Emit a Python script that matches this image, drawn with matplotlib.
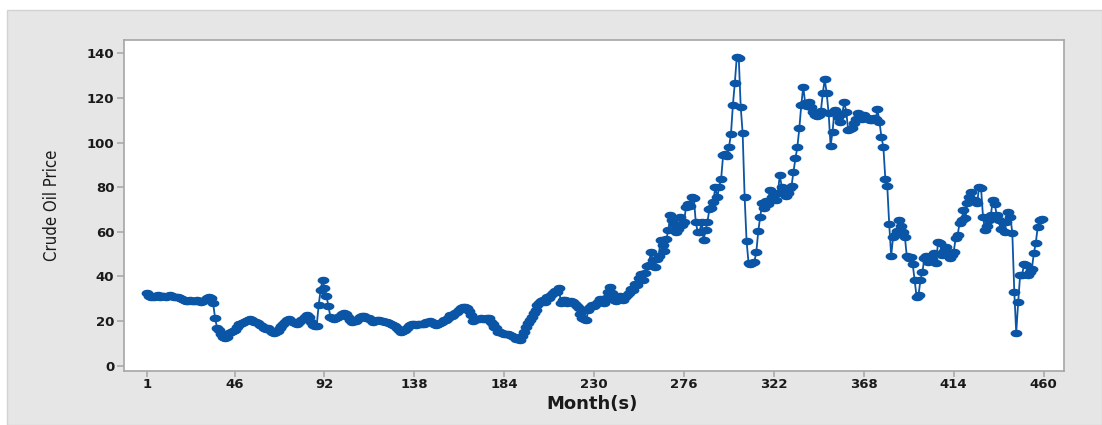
import numpy as np
import matplotlib
matplotlib.use("Agg")
import matplotlib.pyplot as plt
from matplotlib.markers import MarkerStyle
from matplotlib.transforms import Affine2D
from matplotlib.patches import Rectangle

# monthly crude oil price, in blocks of 100 months
prices_001_100 = [
    32.8, 31.2, 31.0, 31.3, 31.0, 31.2, 31.5, 31.0, 31.4, 31.2,
    31.0, 31.3, 31.5, 31.2, 30.8, 30.9, 30.6, 30.3, 30.0, 29.3,
    28.8, 28.9, 29.4, 29.2, 29.0, 29.2, 29.5, 28.8, 28.5, 28.9,
    29.3, 30.2, 31.0, 30.4, 28.0, 21.5, 17.0, 15.8, 14.2, 13.0,
    12.5, 13.0, 14.8, 15.2, 15.5, 16.0, 17.5, 18.5, 18.8, 19.2,
    19.6, 20.0, 20.4, 20.8, 20.3, 19.8, 19.5, 19.0, 18.2, 17.6,
    17.0, 16.6, 16.8, 16.2, 15.3, 14.8, 15.0, 15.6, 16.8, 17.8,
    18.6, 19.5, 20.4, 20.8, 20.2, 19.6, 19.0, 18.8, 19.4, 20.3,
    21.0, 22.0, 22.7, 21.8, 19.8, 18.4, 17.6, 17.8, 27.0, 33.8,
    38.4, 35.0, 31.2, 26.8, 22.0, 21.4, 20.8, 21.2, 21.7, 22.4,
]
prices_101_200 = [
    23.2, 23.8, 23.0, 21.7, 20.6, 19.7, 20.0, 20.2, 21.0, 21.8,
    22.4, 22.2, 21.4, 21.6, 21.2, 20.5, 19.7, 19.9, 20.3, 20.5,
    20.2, 19.9, 19.8, 19.4, 19.0, 18.7, 18.3, 17.8, 17.0, 16.0,
    15.3, 15.6, 16.2, 16.8, 17.6, 18.3, 18.8, 18.6, 18.2, 18.8,
    18.9, 18.5, 18.9, 19.4, 19.8, 20.2, 19.6, 18.8, 18.3, 18.6,
    19.2, 19.8, 20.5, 20.6, 21.4, 22.7, 22.2, 22.9, 23.6, 24.2,
    25.0, 25.7, 26.5, 26.2, 25.7, 24.4, 22.7, 20.2, 20.8, 20.9,
    21.0, 21.2, 20.8, 21.0, 21.2, 21.2, 19.5, 18.9, 17.5, 16.8,
    15.3, 15.0, 14.5, 14.2, 14.4, 14.0, 13.8, 13.5, 12.8, 11.9,
    12.2, 11.5, 13.5, 15.3, 17.5, 19.0, 20.5, 22.0, 23.5, 25.0,
]
prices_201_300 = [
    27.2, 28.0, 28.8, 29.4, 28.6, 31.0, 30.2, 31.5, 32.4, 33.5,
    33.0, 34.7, 28.0, 29.6, 29.4, 28.2, 28.6, 29.2, 28.7, 27.8,
    26.8, 25.7, 23.0, 21.2, 20.8, 20.5, 25.0, 26.5, 27.2, 26.6,
    27.8, 28.7, 29.8, 28.9, 28.2, 30.2, 33.0, 35.5, 32.5, 29.4,
    29.2, 30.9, 31.2, 30.9, 29.5, 30.9, 31.6, 32.4, 34.3, 33.8,
    36.5, 36.1, 39.1, 41.0, 38.5, 41.4, 44.6, 45.0, 51.1, 47.4,
    44.4, 48.0, 49.0, 56.3, 54.0, 51.5, 57.0, 60.8, 67.5, 65.2,
    63.7, 60.0, 61.5, 66.5, 63.0, 64.4, 71.2, 72.5, 71.5, 75.7,
    75.3, 64.4, 59.9, 60.1, 64.5, 56.3, 60.8, 64.5, 70.4, 70.5,
    73.4, 80.2, 75.5, 80.2, 83.9, 94.4, 95.0, 94.0, 98.1, 103.7,
]
prices_301_400 = [
    116.9, 126.9, 138.5, 138.0, 116.1, 104.1, 75.8, 55.9, 46.2, 45.5,
    45.9, 46.6, 51.1, 60.4, 66.8, 72.8, 70.5, 74.0, 72.5, 78.8,
    75.8, 77.0, 74.5, 77.5, 85.4, 80.2, 77.2, 76.0, 77.2, 79.5,
    80.5, 86.9, 92.9, 98.1, 106.4, 116.9, 125.1, 117.6, 116.5, 118.4,
    116.1, 113.9, 112.4, 112.0, 112.4, 114.0, 122.1, 128.4, 122.1, 113.1,
    98.5, 104.9, 114.6, 113.5, 111.6, 109.4, 113.0, 118.3, 113.9, 105.6,
    106.0, 106.5, 108.6, 110.5, 113.1, 112.4, 110.5, 112.4, 111.0, 110.9,
    110.0, 110.1, 111.0, 110.5, 114.9, 109.4, 102.6, 98.1, 83.9, 80.5,
    63.4, 49.2, 57.9, 58.6, 60.5, 65.4, 62.4, 60.0, 57.9, 49.0,
    48.3, 48.9, 45.7, 38.5, 31.0, 31.7, 38.5, 42.1, 48.2, 49.0,
]
prices_401_459 = [
    46.7, 47.5, 48.0, 50.4, 45.9, 55.6, 55.0, 49.6, 51.5, 53.4,
    50.5, 48.2, 49.5, 51.1, 57.1, 58.6, 63.8, 65.3, 69.8, 66.0,
    72.8, 75.8, 78.0, 74.3, 74.3, 72.8, 80.2, 79.5, 66.8, 60.9,
    62.4, 65.3, 67.5, 74.3, 72.5, 67.5, 65.3, 61.5, 64.5, 60.1,
    64.5, 69.0, 66.8, 59.4, 33.2, 14.7, 28.6, 40.7, 40.7, 45.4,
    45.2, 40.7, 42.1, 43.4, 50.4, 54.9, 62.3, 65.3, 65.6,
]

x_ticks = [1, 46, 92, 138, 184, 230, 276, 322, 368, 414, 460]
y_ticks = [0, 20, 40, 60, 80, 100, 120, 140]

prices = prices_001_100 + prices_101_200 + prices_201_300 + prices_301_400 + prices_401_459
months = np.arange(1, len(prices) + 1)

W, H = 1102, 425
fig = plt.figure(figsize=(W / 100, H / 100), dpi=100)
fig.patch.set_facecolor("white")

# grey backdrop behind the plot panel
fig.add_artist(Rectangle((7 / W, 0), 1 - 7 / W, 1 - 10 / H, transform=fig.transFigure,
                         facecolor="#e6e6e6", edgecolor="#d2d2d2", lw=1.0, zorder=0))

ax = fig.add_axes([124 / W, 1 - 370.7 / H, (1064.3 - 124) / W, (370.7 - 40) / H])
ax.set_facecolor("white")

blue = "#0a55a6"
mk = MarkerStyle("o", transform=Affine2D().scale(1.7, 1.0))
ax.plot(months, prices, color=blue, lw=1.3, marker=mk, ms=4.4, mec=blue, mfc=blue, zorder=3)

ax.set_xlim(-10.6, 470.6)
ax.set_ylim(-2.24, 146.0)
ax.set_xticks(x_ticks)
ax.set_yticks(y_ticks)

for s in ax.spines.values():
    s.set_color("#a6a6a6")
    s.set_linewidth(1.2)

ax.tick_params(axis="both", direction="out", color="#a6a6a6", width=1.1, labelcolor="#1a1a1a")
ax.tick_params(axis="x", length=4, pad=1.5)
ax.tick_params(axis="y", length=5, pad=2)
for lab in ax.get_xticklabels() + ax.get_yticklabels():
    lab.set_fontsize(9.5)
    lab.set_fontweight("bold")

fig.text(52 / W, 1 - 205 / H, "Crude Oil Price", rotation=90, ha="center", va="center",
         fontsize=12, fontstretch="condensed", family="DejaVu Sans", color="#1a1a1a")
fig.text(592 / W, 1 - 404 / H, "Month(s)", ha="center", va="center",
         fontsize=13, fontweight="bold", color="#1a1a1a")

fig.savefig("out.png", dpi=100, facecolor=fig.get_facecolor())
